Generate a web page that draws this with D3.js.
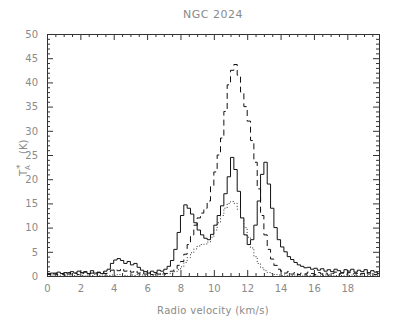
<!DOCTYPE html>
<html>
<head>
<meta charset="utf-8">
<script src="https://cdn.jsdelivr.net/npm/d3@7"></script>
<style>
body { margin: 0; background: #fff; }
text { font-family: "DejaVu Sans", sans-serif; fill: #8a8a8a; }
.axis path { display: none; }
.axis line { stroke: #333; stroke-width: 1; }
.axis text { font-size: 10px; fill: #8a8a8a; }
</style>
</head>
<body>
<script>
//Channel grid (km/s)
var vStart = 0;
var vStep = 0.2;

//Antenna temperature per channel, K
var solid = [
    0.3,0.6,0.4,0.8,0.5,0.7,0.4,0.9,0.6,1.0,
    0.7,0.9,0.5,1.1,0.6,0.8,0.5,1.0,1.4,2.6,
    3.3,3.6,3.2,2.6,3.0,2.3,2.6,1.8,1.2,0.9,
    0.6,1.0,0.7,1.2,1.0,1.4,2.0,3.2,5.5,9.0,
    12.5,14.7,14.0,12.8,11.0,9.5,8.5,7.8,7.5,8.6,
    10.5,12.5,14.5,17.0,20.5,24.5,22.0,17.5,12.0,8.5,
    6.5,7.5,10.5,15.5,21.0,23.5,19.0,14.0,10.0,7.5,
    6.0,5.0,4.0,3.4,2.8,2.3,2.0,1.7,1.8,1.4,
    1.6,1.2,1.5,1.0,1.3,0.9,1.4,1.1,0.7,1.3,
    1.0,1.4,0.8,1.2,0.9,1.3,0.7,1.1,0.8,0.5
];
var dashed = [
    0.5,0.2,0.6,0.3,0.5,0.2,0.7,0.4,0.6,0.3,
    0.5,0.8,0.4,0.6,0.3,0.7,0.9,0.5,0.8,1.2,
    1.4,1.1,1.5,1.0,1.2,0.8,1.1,0.6,0.9,0.4,
    0.7,0.3,0.6,0.4,0.8,0.5,0.9,1.0,1.5,2.2,
    3.0,4.5,6.5,8.5,10.5,12.0,13.0,14.0,15.5,18.5,
    21.5,25.0,28.5,34.0,39.5,42.5,43.7,41.5,38.0,35.0,
    32.0,28.0,23.5,18.0,12.5,8.5,5.5,3.5,2.2,1.4,
    1.0,0.6,0.9,0.4,0.7,0.3,0.6,0.4,0.8,0.5,
    0.3,0.7,0.4,0.6,0.2,0.5,0.8,0.4,0.6,0.3,
    0.7,0.4,0.6,0.2,0.5,0.8,0.4,0.6,0.3,0.5
];
var dotted = [
    0.1,0.2,0.0,0.1,0.3,0.1,0.2,0.0,0.1,0.2,
    0.1,0.0,0.2,0.1,0.3,0.1,0.2,0.0,0.1,0.2,
    0.1,0.3,0.2,0.1,0.0,0.2,0.1,0.3,0.2,0.1,
    0.2,0.1,0.3,0.2,0.4,0.3,0.5,0.6,0.9,1.3,
    1.9,2.8,3.8,4.8,5.6,6.2,6.5,6.6,7.0,8.0,
    9.5,11.0,12.5,14.0,15.0,15.4,15.0,13.8,12.0,10.0,
    8.0,5.8,4.0,2.6,1.7,1.1,0.7,0.5,0.3,0.2,
    0.1,0.2,0.0,0.1,0.2,0.1,0.0,0.2,0.1,0.1,
    0.2,0.0,0.1,0.2,0.1,0.0,0.1,0.2,0.1,0.0,
    0.1,0.2,0.1,0.0,0.2,0.1,0.1,0.0,0.2,0.1
];

var xMajor = [0,2,4,6,8,10,12,14,16,18];
var yMajor = [0,5,10,15,20,25,30,35,40,45,50];

var w = 397, h = 327;
var margin = {left: 47, right: 18, top: 34, bottom: 51};

var x = d3.scaleLinear().domain([0, 19.9]).range([margin.left, w - margin.right]);
var y = d3.scaleLinear().domain([0, 50]).range([h - margin.bottom, margin.top]);

var svg = d3.select("body").append("svg")
    .attr("width", w)
    .attr("height", h);

svg.append("defs").append("clipPath").attr("id", "clip")
    .append("rect")
    .attr("x", x(0)).attr("y", y(50))
    .attr("width", x(19.9) - x(0)).attr("height", y(0) - y(50) + 1);

//Minor tick positions
var xMinor = d3.range(0, 20, 0.5).filter(function(d) { return d % 2 !== 0; });
var yMinor = d3.range(0, 50, 1).filter(function(d) { return d % 5 !== 0; });

function addAxis(gen, tr, vals, size, labels) {
    var a = gen.tickValues(vals).tickSize(size).tickPadding(labels ? 9 : 0);
    if (!labels) a.tickFormat("");
    svg.append("g").attr("class", "axis").attr("transform", tr).call(a);
}

var bottomTr = "translate(0," + y(0) + ")";
var topTr = "translate(0," + y(50) + ")";
var leftTr = "translate(" + x(0) + ",0)";
var rightTr = "translate(" + x(19.9) + ",0)";

addAxis(d3.axisBottom(x), bottomTr, xMajor, -6, true);
addAxis(d3.axisBottom(x), bottomTr, xMinor, -3, false);
addAxis(d3.axisTop(x), topTr, xMajor, -6, false);
addAxis(d3.axisTop(x), topTr, xMinor, -3, false);
addAxis(d3.axisLeft(y), leftTr, yMajor, -6, true);
addAxis(d3.axisLeft(y), leftTr, yMinor, -3, false);
addAxis(d3.axisRight(y), rightTr, yMajor, -6, false);
addAxis(d3.axisRight(y), rightTr, yMinor, -3, false);

//Frame
svg.append("rect")
    .attr("x", x(0) + 0.5).attr("y", y(50) + 0.5)
    .attr("width", x(19.9) - x(0)).attr("height", y(0) - y(50))
    .attr("fill", "none").attr("stroke", "#333");

//Step lines
var line = d3.line()
    .x(function(d, i) { return x(vStart + i * vStep); })
    .y(function(d) { return y(d); })
    .curve(d3.curveStepAfter);

var series = [
    {data: solid, dash: null, color: "#111"},
    {data: dashed, dash: "6,4", color: "#111"},
    {data: dotted, dash: "1,2", color: "#333"}
];

svg.append("g").attr("clip-path", "url(#clip)")
    .selectAll("path")
    .data(series)
    .enter()
    .append("path")
    .attr("d", function(d) { return line(d.data.concat([d.data[d.data.length - 1]])); })
    .attr("fill", "none")
    .attr("stroke", function(d) { return d.color; })
    .attr("stroke-width", 1)
    .attr("stroke-dasharray", function(d) { return d.dash; });

//Title
svg.append("text")
    .attr("x", 213).attr("y", 18)
    .attr("text-anchor", "middle")
    .attr("font-size", 11)
    .attr("letter-spacing", 0.5)
    .text("NGC 2024");

//X label
svg.append("text")
    .attr("x", 213).attr("y", 314)
    .attr("text-anchor", "middle")
    .attr("font-size", 10)
    .attr("letter-spacing", 0.3)
    .text("Radio velocity (km/s)");

//Y label, pieces placed along the rotated baseline
var yl = svg.append("g").attr("transform", "translate(27,176) rotate(-90)");
yl.append("text").attr("x", 0).attr("y", 0).attr("font-size", 10).text("T");
yl.append("text").attr("x", 6).attr("y", 3).attr("font-size", 7).text("A");
yl.append("text").attr("x", 7).attr("y", -4).attr("font-size", 9).text("*");
yl.append("text").attr("x", 22).attr("y", 0).attr("font-size", 10).text("(K)");
</script>
</body>
</html>
